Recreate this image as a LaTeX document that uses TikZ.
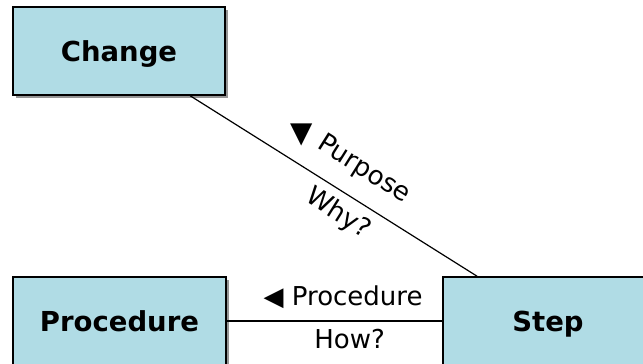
\documentclass[tikz,border=0pt]{standalone}
\usepackage{fontspec}
\setmainfont{DejaVu Sans}
\definecolor{boxblue}{RGB}{176,220,229}
\definecolor{shadowgray}{RGB}{150,150,150}
\tikzset{
  box/.style={draw, line width=1.6pt, fill=boxblue, minimum width=212pt,
    minimum height=88pt, text height=20pt, text depth=0pt,
    font=\fontsize{27.5}{31}\selectfont\bfseries},
  lbl/.style={font=\fontsize{26}{30}\selectfont, inner sep=2pt},
  tri/.style={font=\fontsize{29}{30}\selectfont, inner sep=0pt}
}
\begin{document}
\begin{tikzpicture}[x=1pt,y=-1pt]
\useasboundingbox (0,0) rectangle (643,364);
% shadows
\fill[shadowgray] (16,10) rectangle (228,98);
\fill[shadowgray] (16,280) rectangle (229,370);
\fill[shadowgray] (446,280) rectangle (660,370);

\node[box] (change) at (119,51) {Change};
\node[box, minimum width=213pt] (procedure) at (119.5,321) {Procedure};
\node[box, minimum width=210pt] (step) at (548,321) {Step};

\path[draw,line width=1.2pt] (change) -- node[tri,pos=0.387,yshift=31pt] {▼}
  node[lbl,sloped,above=15pt,pos=0.55] {Purpose}
  node[lbl,sloped,below=6pt,pos=0.555] {Why?} (step);
\path[draw,line width=1.2pt] (procedure) -- node[lbl,above=10pt,pos=0.54] {◀ Procedure}
  node[lbl,below=6pt,pos=0.57] {How?} (step);
\end{tikzpicture}
\end{document}
